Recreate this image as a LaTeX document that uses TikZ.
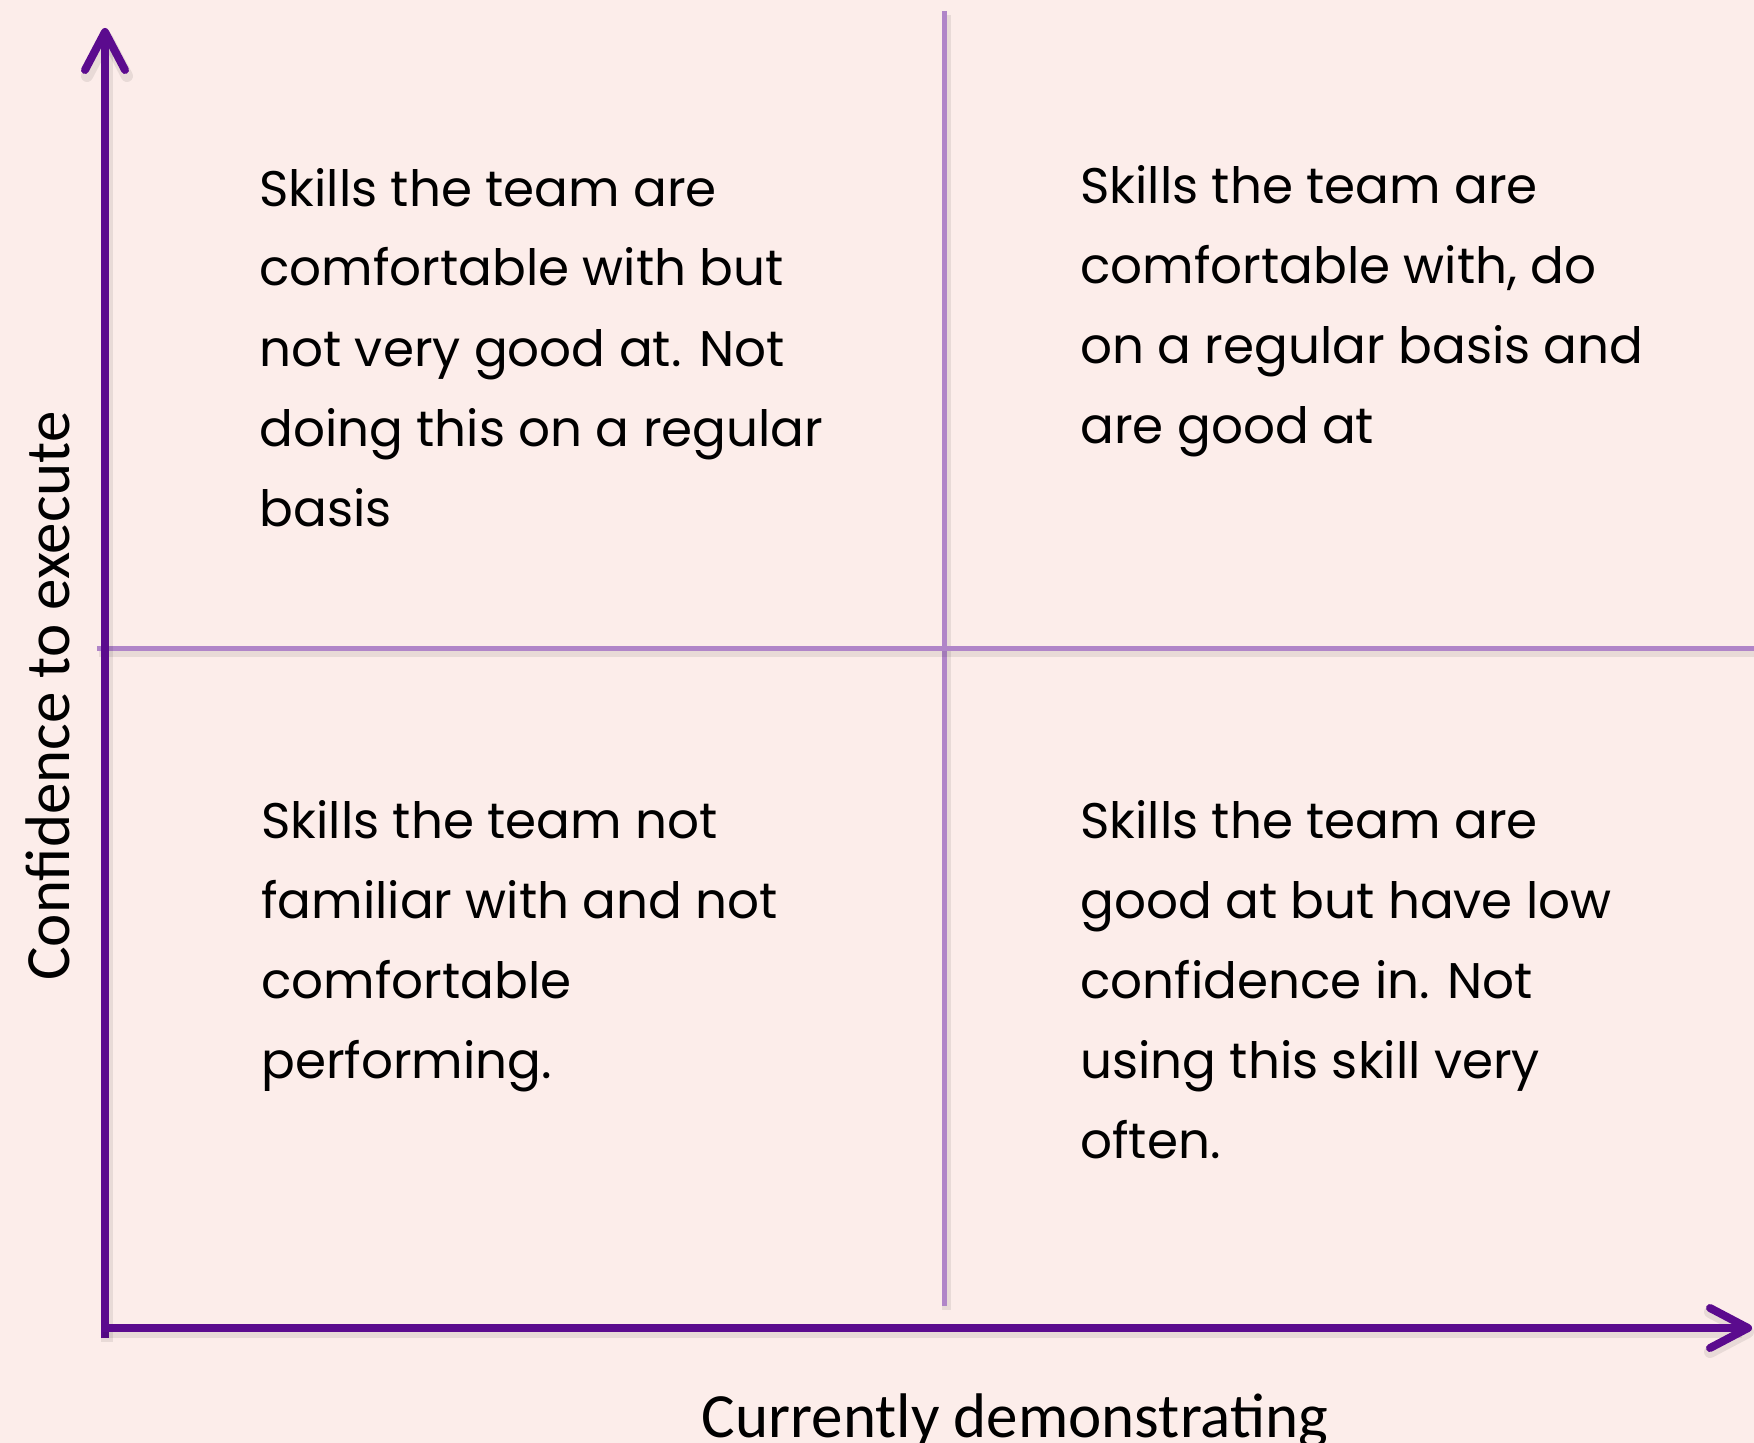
\documentclass[tikz,border=0pt]{standalone}
\usepackage{fontspec}
\setmainfont{Poppins}
\newfontfamily\calibri{Carlito}
\usetikzlibrary{arrows.meta}

\definecolor{bgpink}{HTML}{FCEDEA}
\definecolor{axispurple}{HTML}{5B0B8E}
\definecolor{gridlilac}{HTML}{B085C8}

\begin{document}
\begin{tikzpicture}[x=0.5pt,y=-0.5pt]
  \tikzset{softshadow/.style = {preaction={draw=black, draw opacity=0.08, line width=#1,
      transform canvas={shift={(1pt,-2pt)}}}}}
  \tikzset{axis/.style = {draw=axispurple, line width=4pt, softshadow=6pt}}
  \tikzset{divider/.style = {draw=gridlilac, line width=2.5pt, softshadow=4.5pt}}
  \tikzset{cell/.style = {anchor=base west, align=left, inner sep=0pt,
      font=\fontsize{25}{40}\selectfont}}
  \tikzset{axistext/.style = {inner sep=0pt, font=\calibri\fontsize{31.5}{38}\selectfont}}

  % page
  \fill[bgpink] (0,0) rectangle (1754,1443);
  \useasboundingbox (0,0) rectangle (1754,1443);

  % quadrant grid
  \coordinate (vtop) at (944,11);
  \coordinate (vbot) at (944,1306);
  \coordinate (hleft) at (97,648);
  \coordinate (hright) at (1754,648);
  \draw[divider] (vtop) -- (vbot);
  \draw[divider] (hleft) -- (hright);

  % axes
  \coordinate (ybot) at (105,1338);
  \coordinate (ytip) at (105,28);
  \coordinate (xstart) at (101,1328);
  \coordinate (xtip) at (1752,1328);
  \draw[axis,-{Straight Barb[length=19pt,width=20pt,round]}] (ybot) -- (ytip);
  \draw[axis,-{Straight Barb[length=19pt,width=20pt,round]}] (xstart) -- (xtip);

  % quadrant texts (placed by the baseline of their last line)
  \node[cell] (confnotgood) at (259,526) {Skills the team are\\comfortable with but\\not very good at. Not\\doing this on a regular\\basis};
  \node[cell] (confgood) at (1080,444) {Skills the team are\\comfortable with, do\\on a regular basis and\\are good at};
  \node[cell] (notfamiliar) at (261,1078) {Skills the team not\\familiar with and not\\comfortable\\performing.};
  \node[cell] (lowconf) at (1080,1158) {Skills the team are\\good at but have low\\confidence in. Not\\using this skill very\\often.};

  % axis titles
  \node[axistext, anchor=base, rotate=90] (ylabel) at (69,696) {Confidence to execute};
  \node[axistext, anchor=base] (xlabel) at (1015,1437) {Currently demonstrating};
\end{tikzpicture}
\end{document}
